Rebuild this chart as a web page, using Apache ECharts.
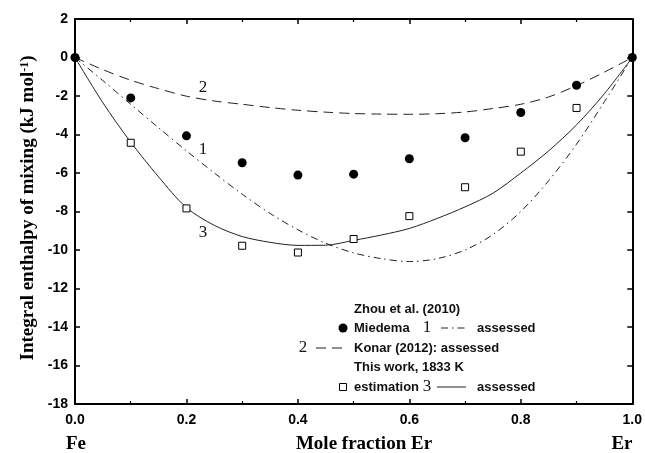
<!DOCTYPE html>
<html>
<head>
<meta charset="utf-8">
<script src="https://cdn.jsdelivr.net/npm/echarts@6/dist/echarts.min.js"></script>
<style>
  html, body { margin: 0; padding: 0; background: #fff; }
  #chart { width: 645px; height: 453px; }
</style>
</head>
<body>
<div id="chart"></div>
<script>
// Mole fraction of Er for the assessed curves
const curveX = [0, 0.05, 0.1, 0.15, 0.2, 0.25, 0.3, 0.35, 0.4, 0.45, 0.5,
                0.55, 0.6, 0.65, 0.7, 0.75, 0.8, 0.85, 0.9, 0.95, 1];
// Zhou et al. (2010), assessed (curve 1)
const zhouAssessed = [0, -1.2, -2.43, -3.65, -4.85, -6.0, -7.1, -8.1, -8.95, -9.65, -10.15,
                      -10.45, -10.6, -10.45, -10.0, -9.2, -8.0, -6.4, -4.5, -2.3, 0];
// Konar (2012), assessed (curve 2)
const konarAssessed = [0, -0.63, -1.18, -1.62, -2.01, -2.26, -2.43, -2.6, -2.74, -2.84, -2.91,
                       -2.94, -2.95, -2.92, -2.83, -2.65, -2.43, -2.05, -1.46, -0.76, 0];
// This work, 1833 K, assessed (curve 3)
const thisWorkAssessed = [0, -2.35, -4.4, -6.2, -7.8, -8.72, -9.3, -9.6, -9.76, -9.75, -9.5,
                          -9.22, -8.88, -8.36, -7.76, -7.05, -6.0, -4.85, -3.5, -1.88, 0];

// Point estimates
const pointX = [0, 0.1, 0.2, 0.3, 0.4, 0.5, 0.6, 0.7, 0.8, 0.9, 1];
const miedema = [0, -2.1, -4.07, -5.47, -6.11, -6.06, -5.26, -4.17, -2.86, -1.44, 0];
const estX = [0.1, 0.2, 0.3, 0.4, 0.5, 0.6, 0.7, 0.8, 0.9];
const estimation = [-4.43, -7.84, -9.78, -10.13, -9.43, -8.24, -6.74, -4.89, -2.62];

// Axis ranges and ticks
const xMin = 0, xMax = 1, xStep = 0.2;
const yMin = -18, yMax = 2, yStep = 2;

const pairs = (xs, ys) => xs.map((x, i) => [x, ys[i]]);

const SANS = '"Liberation Sans", Arial, sans-serif';
const SERIF = '"Liberation Serif", "Times New Roman", serif';
const INK = '#111';

// fresh style objects for every axis (inward ticks on all four sides)
const axisLine = () => ({ show: true, onZero: false, lineStyle: { color: '#000', width: 2 } });
const tick = () => ({ show: true, inside: true, length: 5, lineStyle: { color: '#000', width: 1.5 } });
const minor = () => ({ show: true, splitNumber: 2, length: 3, lineStyle: { color: '#000', width: 1.2 } });

const chart = echarts.init(document.getElementById('chart'), null, { renderer: 'canvas' });

const legendText = (x, y, t) => ({
  type: 'text', x: x, y: y,
  style: { text: t, font: 'bold 13px ' + SANS, fill: INK, textVerticalAlign: 'middle' }
});
const curveNum = (x, y, t) => ({
  type: 'text', x: x, y: y,
  style: { text: t, font: '17px ' + SERIF, fill: INK, textAlign: 'center', textVerticalAlign: 'middle' }
});
const keyLine = (x1, x2, y, dash) => ({
  type: 'line', shape: { x1: x1, y1: y, x2: x2, y2: y },
  style: { stroke: '#222', lineWidth: 1, lineDash: dash }
});

chart.setOption({
  animation: false,
  backgroundColor: '#fff',
  grid: { left: 75, right: 12, top: 19, bottom: 49 },
  xAxis: [
    {
      type: 'value', min: xMin, max: xMax, interval: xStep, position: 'bottom',
      axisLine: axisLine(), axisTick: tick(), minorTick: minor(), splitLine: { show: false },
      axisLabel: {
        margin: 9, color: '#000', fontFamily: SANS, fontWeight: 'bold', fontSize: 14,
        formatter: v => v.toFixed(1)
      }
    },
    {
      type: 'value', min: xMin, max: xMax, interval: xStep, position: 'top',
      axisLine: axisLine(), axisTick: tick(), minorTick: minor(), splitLine: { show: false },
      axisLabel: { show: false }
    }
  ],
  yAxis: [
    {
      type: 'value', min: yMin, max: yMax, interval: yStep, position: 'left',
      axisLine: axisLine(), axisTick: tick(), splitLine: { show: false },
      axisLabel: { margin: 7, color: '#000', fontFamily: SANS, fontWeight: 'bold', fontSize: 14 }
    },
    {
      type: 'value', min: yMin, max: yMax, interval: yStep, position: 'right',
      axisLine: axisLine(), axisTick: tick(), splitLine: { show: false },
      axisLabel: { show: false }
    }
  ],
  series: [
    {
      name: 'Konar (2012): assessed', type: 'line', data: pairs(curveX, konarAssessed),
      smooth: 0.3, showSymbol: false, z: 2,
      lineStyle: { color: '#222', width: 1, type: [10, 6] }
    },
    {
      name: 'Zhou et al. (2010) assessed', type: 'line', data: pairs(curveX, zhouAssessed),
      smooth: 0.3, showSymbol: false, z: 2,
      lineStyle: { color: '#222', width: 1, type: [7, 4, 1.5, 4] }
    },
    {
      name: 'This work, 1833 K assessed', type: 'line', data: pairs(curveX, thisWorkAssessed),
      smooth: 0.3, showSymbol: false, z: 2,
      lineStyle: { color: '#222', width: 1, type: 'solid' }
    },
    {
      name: 'estimation', type: 'scatter', data: pairs(estX, estimation),
      symbol: 'rect', symbolSize: 7, clip: false, z: 4,
      itemStyle: { color: '#fff', borderColor: '#000', borderWidth: 1, opacity: 1 }
    },
    {
      name: 'Miedema', type: 'scatter', data: pairs(pointX, miedema),
      symbol: 'circle', symbolSize: 9, clip: false, z: 5,
      itemStyle: { color: '#000', opacity: 1 }
    }
  ],
  graphic: [
    // axis titles
    {
      type: 'text', x: 28, y: 208, rotation: Math.PI / 2,
      style: {
        text: 'Integral enthalpy of mixing (kJ mol{sup|-1})',
        font: 'bold 19px ' + SERIF, fill: '#000',
        textAlign: 'center', textVerticalAlign: 'middle',
        rich: { sup: { fontSize: 12, fontWeight: 'bold', fontFamily: SERIF, verticalAlign: 'top', fill: '#000' } }
      }
    },
    {
      type: 'text', x: 364, y: 444,
      style: { text: 'Mole fraction Er', font: 'bold 19px ' + SERIF, fill: '#000', textAlign: 'center', textVerticalAlign: 'middle' }
    },
    {
      type: 'text', x: 76, y: 444,
      style: { text: 'Fe', font: 'bold 19px ' + SERIF, fill: '#000', textAlign: 'center', textVerticalAlign: 'middle' }
    },
    {
      type: 'text', x: 622, y: 444,
      style: { text: 'Er', font: 'bold 19px ' + SERIF, fill: '#000', textAlign: 'center', textVerticalAlign: 'middle' }
    },
    // curve numbers
    curveNum(203, 88, '2'),
    curveNum(203, 150, '1'),
    curveNum(203, 233, '3'),
    // legend block
    legendText(354, 309, 'Zhou et al. (2010)'),
    {
      type: 'circle', shape: { cx: 343, cy: 328, r: 4.5 }, style: { fill: '#000' }
    },
    legendText(354, 328, 'Miedema'),
    curveNum(427, 328, '1'),
    keyLine(441, 468, 328, [7, 4, 1.5, 4]),
    legendText(477, 328, 'assessed'),
    curveNum(303, 348, '2'),
    keyLine(316, 344, 348, [10, 6]),
    legendText(354, 348, 'Konar (2012): assessed'),
    legendText(354, 367, 'This work, 1833 K'),
    {
      type: 'rect', shape: { x: 339.5, y: 383.5, width: 7, height: 7 },
      style: { fill: '#fff', stroke: '#000', lineWidth: 1 }
    },
    legendText(354, 387, 'estimation'),
    curveNum(427, 387, '3'),
    keyLine(437, 466, 387, null),
    legendText(477, 387, 'assessed')
  ]
});
</script>
</body>
</html>
